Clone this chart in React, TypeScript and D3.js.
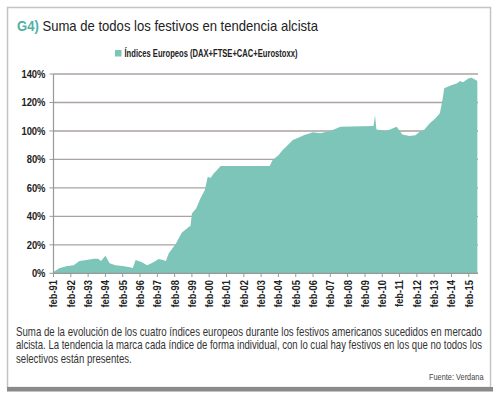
import React from "react";
import * as d3 from "d3";

const dates: string[] = [
  "1991-02","1991-06","1991-11","1992-04","1992-08","1993-01","1993-06","1993-09","1993-11",
  "1994-02","1994-05","1994-09","1995-02","1995-07","1995-09","1995-11","1996-03","1996-07",
  "1996-11","1997-03","1997-06","1997-08","1997-10","1998-03","1998-07","1998-12","1999-01",
  "1999-02","1999-05","1999-08","1999-11","2000-01","2000-03","2000-05","2000-07","2000-10",
  "2003-08","2003-10","2004-02","2004-05","2004-07","2004-12","2005-03","2005-08","2006-02",
  "2006-07","2007-02","2007-09","2009-08","2009-09","2009-10","2010-05","2010-12","2011-04",
  "2011-09","2012-01","2012-04","2012-07","2012-11","2013-03","2013-06","2013-08","2013-09",
  "2014-01","2014-06","2014-08","2014-10","2015-02","2015-04","2015-07","2015-08"
];
const values: number[] = [
  1,3.5,5,5.6,8.6,9.3,10.3,10.3,8.6,
  12.4,7,5.6,5.1,4.2,3.7,9.3,8,5.6,
  7.5,10,9.3,8.6,14,21,28.5,32.7,33,
  42,45.6,52.7,58.5,67.9,67,70,72,75.4,
  75.4,79.6,83,86.6,88.5,93.6,94.8,97.1,99,
  98.3,100,103,103.5,111,101,100,103,97.5,
  96.5,97,99.5,100.7,105.4,108.9,112.4,123,130,
  131.8,133.5,135,134.2,137,137.4,135.8,135
];
const yTicks: number[] = [0, 20, 40, 60, 80, 100, 120, 140];
const xYears: number[] = d3.range(1991, 2016);

const titleCode = "G4)";
const titleText = "Suma de todos los festivos en tendencia alcista";
const legendText = "Índices Europeos (DAX+FTSE+CAC+Eurostoxx)";
const noteLines: string[] = [
  "Suma de la evolución de los cuatro índices europeos durante los festivos americanos sucedidos en mercado",
  "alcista. La tendencia la marca cada índice de forma individual, con lo cual hay festivos en los que no todos los",
  "selectivos están presentes."
];
const sourceText = "Fuente: Verdana";

const FONT = "'Liberation Sans', Arial, sans-serif";
const TEAL = "#7dc5b9";

type CTProps = {
  x: number; y: number; sx: number; size: number; children: React.ReactNode;
  weight?: string; fill?: string; anchor?: "start" | "end" | "middle"; len?: number; rotate?: number;
};
function CText({ x, y, sx, size, children, weight, fill, anchor, len, rotate }: CTProps) {
  return (
    <g transform={`translate(${x},${y})${rotate ? ` rotate(${rotate})` : ""} scale(${sx},1)`}>
      <text x={0} y={0} fontSize={size} fontWeight={weight || "normal"} fill={fill || "#222"}
        textAnchor={anchor || "start"}
        textLength={len ? len / sx : undefined}
        lengthAdjust={len ? "spacingAndGlyphs" : undefined}>{children}</text>
    </g>
  );
}

export default function App() {
  const parse = d3.timeParse("%Y-%m");
  const data = dates.map((d, i) => ({ date: parse(d) as Date, v: values[i] }));
  const x = d3.scaleTime()
    .domain([new Date(1991, 1, 1), new Date(2015, 7, 15)])
    .range([53.5, 478]);
  const y = d3.scaleLinear().domain([0, 140]).range([273.3, 74]);
  const area = d3.area<{ date: Date; v: number }>()
    .x(d => x(d.date))
    .y0(y(0))
    .y1(d => y(d.v))
    .curve(d3.curveLinear);
  const fmt = d3.timeFormat("%y");

  return (
    <svg width={500} height={395} style={{ position: "absolute", left: 0, top: 0 }} fontFamily={FONT}>
      <rect x={0} y={0} width={500} height={395} fill="#fff" />
      <rect x={7.5} y={7.5} width={483} height={380} fill="#fff" stroke="#c4c4c4" strokeWidth={1.5} />
      <rect x={7} y={387} width={486} height={4.5} fill="#8a8a8a" />

      <g transform="translate(17,30.7) scale(0.8,1)">
        <text x={0} y={0} fontSize={14.5} fill="#222" textLength={301 / 0.8} lengthAdjust="spacingAndGlyphs">
          <tspan fill="#4fb1a5" fontWeight="bold">{titleCode}</tspan>
          <tspan> {titleText}</tspan>
        </text>
      </g>

      <rect x={115} y={50} width={6.5} height={6.5} fill={TEAL} />
      <CText x={124.5} y={57} sx={0.78} size={11.5} weight="bold" len={173}>{legendText}</CText>

      {yTicks.map(t => (
        <g key={t}>
          <line x1={53.5} x2={478} y1={y(t)} y2={y(t)} stroke="#aaa3a1" strokeWidth={1.4} />
          <line x1={49.5} x2={53.5} y1={y(t)} y2={y(t)} stroke="#999" strokeWidth={1} />
          <CText x={45.5} y={y(t) + 4} sx={0.82} size={11.5} weight="bold" anchor="end">{t}%</CText>
        </g>
      ))}

      <path d={area(data) || ""} fill={TEAL} />

      <line x1={53.5} x2={53.5} y1={74} y2={273.3} stroke="#999" strokeWidth={1.2} />
      <line x1={53.5} x2={478} y1={273.3} y2={273.3} stroke="#999" strokeWidth={1.2} />

      {xYears.map(yr => {
        const d = new Date(yr, 1, 1);
        const px = x(d);
        return (
          <g key={yr}>
            <line x1={px} x2={px} y1={273.3} y2={277} stroke="#999" strokeWidth={1} />
            <CText x={px + 3.9} y={280} rotate={-90} sx={0.85} size={11} weight="bold" anchor="end">
              {"feb-" + fmt(d)}
            </CText>
          </g>
        );
      })}

      {noteLines.map((l, i) => (
        <CText key={i} x={16} y={335.5 + i * 13.8} sx={0.8} size={12} fill="#333"
          len={i < 2 ? 466 : undefined}>{l}</CText>
      ))}
      <CText x={483.5} y={379.5} sx={0.82} size={9} fill="#444" anchor="end">{sourceText}</CText>
    </svg>
  );
}
